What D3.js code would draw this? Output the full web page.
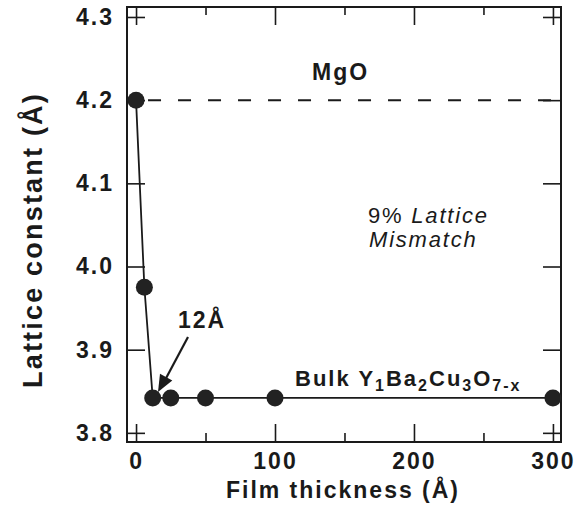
<!DOCTYPE html>
<html><head><meta charset="utf-8">
<script src="https://cdn.jsdelivr.net/npm/d3@7"></script>
<style>body{margin:0;background:#fff}</style>
</head><body>
<script>
const thickness = [0, 6, 12, 25, 50, 100, 300];
const lattice = [4.20, 3.975, 3.842, 3.842, 3.842, 3.842, 3.842];
const mgoLattice = 4.20;
const xMajorTicks = [0, 100, 200, 300];
const xMinorTicks = [50, 150, 250];
const yTicks = [3.8, 3.9, 4.0, 4.1, 4.2, 4.3];

const W = 575, H = 512;
const L = 127, R = 561, T = 7, B = 442;
const font = "'Liberation Sans', Arial, Helvetica, sans-serif";

const svg = d3.select("body").append("svg").attr("width", W).attr("height", H);
const x = d3.scaleLinear().domain([-6.5, 305.8]).range([L, R]);
const y = d3.scaleLinear().domain([3.789, 4.312]).range([B, T]);

const ink = "#1a1a1a";

// frame
svg.append("rect").attr("x", L).attr("y", T).attr("width", R - L).attr("height", B - T)
  .attr("fill", "none").attr("stroke", ink).attr("stroke-width", 2);

const fmtY = d3.format(".1f");
const noDomain = g => g.select(".domain").remove();
svg.append("g").attr("transform", `translate(0,${B})`)
  .call(d3.axisBottom(x).tickValues(xMajorTicks).tickSize(-18).tickPadding(11).tickSizeOuter(0))
  .call(noDomain);
svg.append("g").attr("transform", `translate(0,${B})`)
  .call(d3.axisBottom(x).tickValues(xMinorTicks).tickSize(-9).tickFormat("").tickSizeOuter(0))
  .call(noDomain);
svg.append("g").attr("transform", `translate(0,${T})`)
  .call(d3.axisTop(x).tickValues(xMajorTicks).tickSize(-18).tickFormat("").tickSizeOuter(0))
  .call(noDomain);
svg.append("g").attr("transform", `translate(0,${T})`)
  .call(d3.axisTop(x).tickValues(xMinorTicks).tickSize(-8).tickFormat("").tickSizeOuter(0))
  .call(noDomain);
svg.append("g").attr("class", "yl").attr("transform", `translate(${L},0)`)
  .call(d3.axisLeft(y).tickValues(yTicks).tickSize(-18).tickPadding(13).tickFormat(fmtY).tickSizeOuter(0))
  .call(noDomain);
svg.append("g").attr("transform", `translate(${R},0)`)
  .call(d3.axisRight(y).tickValues(yTicks).tickSize(-18).tickFormat("").tickSizeOuter(0))
  .call(noDomain);

svg.selectAll(".tick line").attr("stroke", ink).attr("stroke-width", 1.6);
svg.selectAll(".tick text").attr("fill", ink).attr("font-family", font)
  .attr("font-size", 23).attr("font-weight", "bold").attr("letter-spacing", 2);

// dashed MgO line
svg.append("line").attr("x1", x(0) + 12).attr("x2", R).attr("y1", y(mgoLattice)).attr("y2", y(mgoLattice))
  .attr("stroke", ink).attr("stroke-width", 2).attr("stroke-dasharray", "13,17");

// data line
const pts = thickness.map((t, i) => [t, lattice[i]]);
svg.append("path").datum(pts)
  .attr("d", d3.line().x(d => x(d[0])).y(d => y(d[1])))
  .attr("fill", "none").attr("stroke", ink).attr("stroke-width", 1.8);
svg.selectAll("circle.pt").data(pts).enter()
  .append("circle").attr("class", "pt")
  .attr("cx", d => x(d[0])).attr("cy", d => y(d[1])).attr("r", 8.5).attr("fill", "#222");

const txt = (s, xx, yy, opts = {}) => svg.append("text").attr("x", xx).attr("y", yy)
  .attr("font-family", font).attr("font-size", opts.size || 23)
  .attr("font-weight", opts.weight || "normal").attr("font-style", opts.style || "normal")
  .attr("letter-spacing", opts.ls == null ? 2 : opts.ls)
  .attr("text-anchor", opts.anchor || "start").attr("fill", ink).text(s);

txt("MgO", 312, 80, {weight: "bold"});
const t9 = svg.append("text").attr("x", 368).attr("y", 223).attr("font-family", font)
  .attr("font-size", 22).attr("letter-spacing", 1.8).attr("fill", ink);
t9.append("tspan").text("9% ");
t9.append("tspan").attr("font-style", "italic").text("Lattice");
txt("Mismatch", 369, 247, {style: "italic", size: 22, ls: 1.8});

txt("12Å", 178, 328, {weight: "bold"});

// arrow
const ax1 = 188, ay1 = 337, ax2 = 158, ay2 = 392;
svg.append("line").attr("x1", ax1).attr("y1", ay1).attr("x2", ax2 + 6).attr("y2", ay2 - 10)
  .attr("stroke", ink).attr("stroke-width", 2.2);
{
  const ang = Math.atan2(ay2 - ay1, ax2 - ax1);
  const len = 17, wid = 7;
  const bx = ax2 - len * Math.cos(ang), by = ay2 - len * Math.sin(ang);
  const px = -Math.sin(ang) * wid, py = Math.cos(ang) * wid;
  svg.append("path").attr("d", `M${ax2},${ay2}L${bx + px},${by + py}L${bx - px},${by - py}Z`).attr("fill", ink);
}

// Bulk label
const tb = svg.append("text").attr("x", 295).attr("y", 386).attr("font-family", font)
  .attr("font-size", 22).attr("font-weight", "bold").attr("letter-spacing", 2).attr("fill", ink);
const sub = (s) => { tb.append("tspan").attr("font-size", 16).attr("dy", 5).text(s); };
const base = (s, first) => { tb.append("tspan").attr("dy", first ? 0 : -5).text(s); };
base("Bulk Y", true); sub("1"); base("Ba"); sub("2"); base("Cu"); sub("3"); base("O"); sub("7-x");

// axis titles
txt("Film thickness (Å)", 343, 498, {weight: "bold", anchor: "middle"});
svg.append("text").attr("transform", "translate(42,240) rotate(-90)")
  .attr("font-family", font).attr("font-size", 27).attr("font-weight", "bold")
  .attr("letter-spacing", 2.2)
  .attr("text-anchor", "middle").attr("fill", ink).text("Lattice constant (Å)");
</script>
</body></html>
